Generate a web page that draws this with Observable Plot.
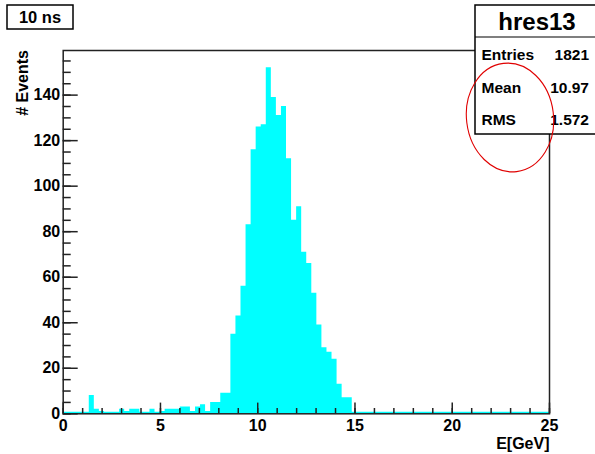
<!DOCTYPE html>
<html><head><meta charset="utf-8">
<script src="https://cdn.jsdelivr.net/npm/d3@7"></script>
<script src="https://cdn.jsdelivr.net/npm/@observablehq/plot@0.6"></script>
<style>html,body{margin:0;padding:0;background:#fff}svg{display:block}</style>
</head><body><div id="chart"></div>
<script>
// Histogram hres13: 100 bins from -1 to 25 GeV
const binLow = -1;
const binWidth = 0.26;
const counts = [
  0,0,0,0,0,0,0,0,0,
  8,2,1,0,0,0,2,1,2,2,0,0,2,0,1,2,2,2,3,3,1,3,4,1,5,5,9,9,
  35,43,56,83,116,126,127,152,139,131,135,112,85,91,71,66,53,39,29,27,24,13,7,7,
  0,0,0,0,0,0,0,0,0,0,0,0,0,0,0,0,0,0,0,0,0,0,0,0,0,0,0,0,0,0,0,0,0,0,0,0,0,0,0
];
const xMajor = [0, 5, 10, 15, 20, 25];
const xMinor = d3.range(0, 26, 1);
const yMajor = [0, 20, 40, 60, 80, 100, 120, 140];
const yMinor = d3.range(0, 160, 5);
const statsTitle = "hres13";
const statsLabels = ["Entries", "Mean", "RMS"];
const statsValues = ["1821", "10.97", "1.572"];
const padLabel = "10 ns";
const xLabel = "E[GeV]";
const yLabel = "# Events";

const steps = counts.map((c, k) => ({x: binLow + k * binWidth, y: c}));
steps.push({x: binLow + counts.length * binWidth, y: 0});

const W = 595, H = 454;
const mL = 62.7, mR = 46, mT = 50, mB = 40.7;
const fw = W - mL - mR, fh = H - mT - mB;
const ink = "#222";
const font = "'Liberation Sans', Arial, Helvetica, sans-serif";

const chart = Plot.plot({
  width: W, height: H,
  marginLeft: mL, marginRight: mR, marginTop: mT, marginBottom: mB,
  x: {domain: [0, 25]},
  y: {domain: [0, 159.6]},
  style: {fontFamily: font, fontWeight: "bold", fontSize: "16px", background: "#fff", color: "#000"},
  marks: [
    Plot.areaY(steps, {x: "x", y: "y", curve: "step-after", fill: "#00ffff", clip: true}),
    Plot.ruleY([0], {stroke: "#00ffff", strokeWidth: 1.6, dy: -1.3}),
    Plot.tickY(yMinor, {y: d => d, insetRight: fw - 8, stroke: ink, strokeWidth: 1.5}),
    Plot.tickY(yMajor, {y: d => d, insetRight: fw - 15, stroke: ink, strokeWidth: 1.5}),
    Plot.tickX(xMinor, {x: d => d, insetTop: fh - 5.3, stroke: ink, strokeWidth: 1.5}),
    Plot.tickX(xMajor, {x: d => d, insetTop: fh - 10.7, stroke: ink, strokeWidth: 1.5}),
    Plot.axisY({ticks: yMajor, tickSize: 0, tickPadding: 3, label: null, fontSize: 16, fontWeight: "bold"}),
    Plot.axisX({ticks: xMajor, tickSize: 0, tickPadding: 6, label: null, fontSize: 16, fontWeight: "bold"}),
    Plot.text([xLabel], {frameAnchor: "bottom-right", textAnchor: "end", lineAnchor: "middle", dy: 30, fontSize: 16, fontWeight: "bold"}),
    Plot.text([yLabel], {frameAnchor: "top-left", textAnchor: "end", lineAnchor: "middle", rotate: -90, dx: -40.7, dy: -0.5, fontSize: 16, fontWeight: "bold"}),
    Plot.frame({stroke: ink, strokeWidth: 1.5})
  ]
});
document.getElementById("chart").appendChild(chart);

// decorations: pad label, stats box, annotation ellipse
const svg = d3.select(chart);
const g = svg.append("g").attr("font-family", font).attr("font-weight", "bold").attr("fill", "#000");
g.append("rect").attr("x", 7).attr("y", 5).attr("width", 66).attr("height", 24)
  .attr("fill", "#fff").attr("stroke", "#000").attr("stroke-width", 1.5);
g.append("text").attr("x", 40).attr("y", 17.5).attr("dy", "0.36em")
  .attr("text-anchor", "middle").attr("font-size", 16.5).text(padLabel);

g.append("rect").attr("x", 475).attr("y", 5).attr("width", 140).attr("height", 129)
  .attr("fill", "#fff").attr("stroke", "#000").attr("stroke-width", 1.5);
g.append("line").attr("x1", 475).attr("x2", 600).attr("y1", 37).attr("y2", 37)
  .attr("stroke", "#000").attr("stroke-width", 1.2);
g.append("text").attr("x", 537).attr("y", 21.5).attr("dy", "0.36em")
  .attr("text-anchor", "middle").attr("font-size", 24).text(statsTitle);
const rowY = [54, 87.5, 119];
statsLabels.forEach((s, i) => {
  g.append("text").attr("x", 481.5).attr("y", rowY[i]).attr("dy", "0.36em")
    .attr("text-anchor", "start").attr("font-size", 15.5).text(s);
  g.append("text").attr("x", 589).attr("y", rowY[i]).attr("dy", "0.36em")
    .attr("text-anchor", "end").attr("font-size", 15.5).text(statsValues[i]);
});
g.append("ellipse").attr("cx", 510).attr("cy", 117.5).attr("rx", 43.5).attr("ry", 54.5)
  .attr("transform", "rotate(-7 510 117.5)")
  .attr("fill", "none").attr("stroke", "#e00000").attr("stroke-width", 1.1);
</script></body></html>
